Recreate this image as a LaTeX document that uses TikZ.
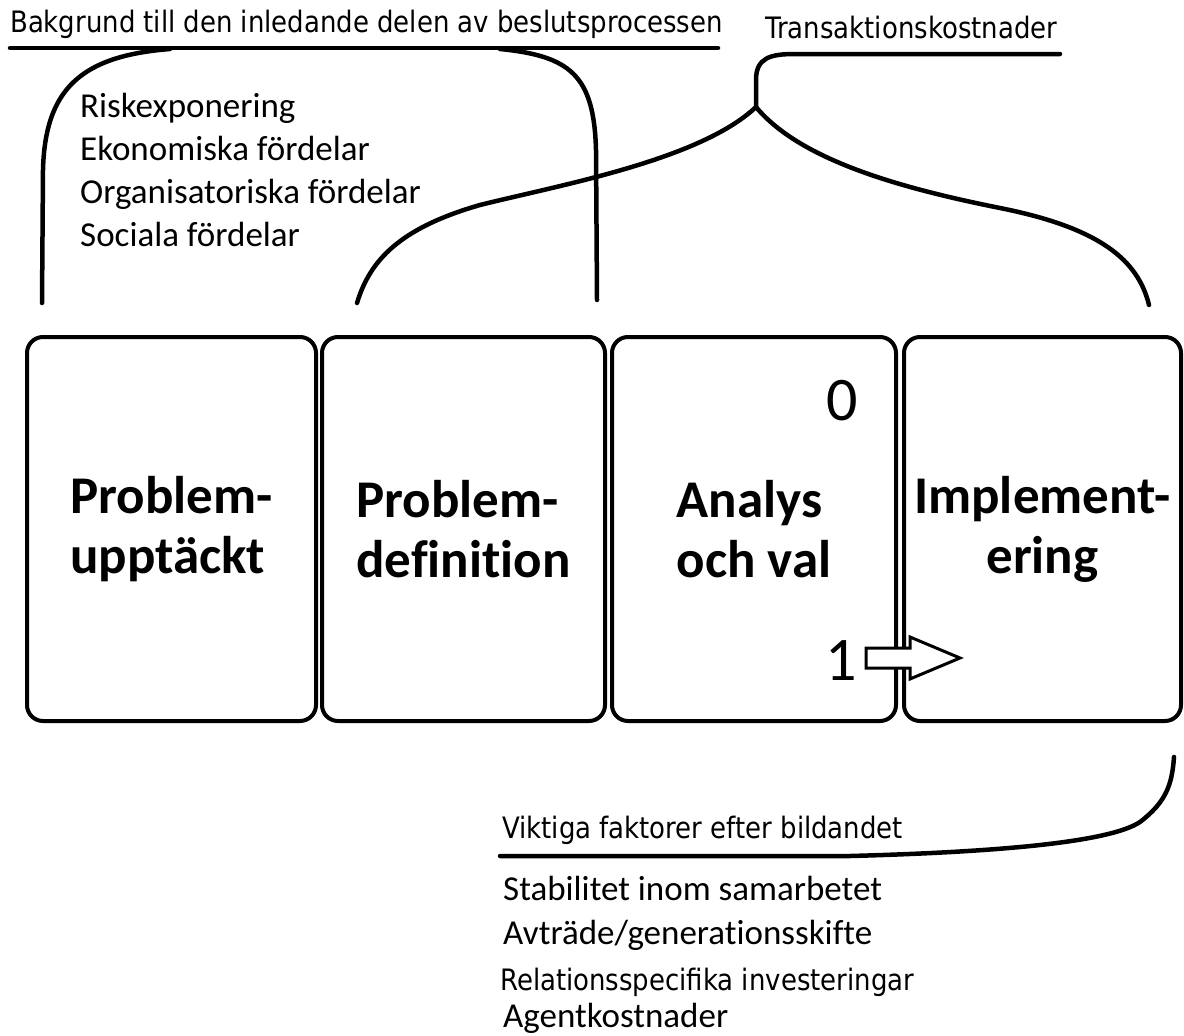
\documentclass[tikz,border=0pt]{standalone}
\usepackage{fontspec}
\setmainfont{Carlito}[Ligatures=NoCommon]
\newfontfamily\headfont[FakeStretch=0.88]{DejaVu Sans}

\tikzset{
  stage/.style={draw, line width=4pt, rounded corners=16pt,
                minimum height=384pt, inner sep=0pt, align=left,
                font=\bfseries\fontsize{53}{60}\selectfont},
  brace/.style={line width=4.5pt, line cap=round},
  heading/.style={anchor=base west, inner sep=0pt,
                  font=\headfont\fontsize{29.5}{33}\selectfont},
  factor/.style={anchor=base west, inner sep=0pt,
                 font=\fontsize{35}{43}\selectfont},
  digit/.style={anchor=base east, inner sep=0pt,
                font=\fontsize{62}{62}\selectfont}
}

\begin{document}
\begin{tikzpicture}[x=1pt, y=-1pt]
        \useasboundingbox (0,0) rectangle (1184,1036);

        % the four stages
        \node[stage, minimum width=289pt] (detect)  at (171.5,529) {Problem-\\upptäckt};
        \node[stage, minimum width=283pt] (define)  at (463.5,529) {Problem-\\definition};
        \node[stage, minimum width=284pt] (analyse) at (754,529)   {Analys\\och val};
        \node[stage, minimum width=277pt, align=center] (implement) at (1042.5,529) {Implement-\\ering};

        \node[digit] (zero) at (858,420) {0};
        \node[digit] (one)  at (857,680) {1};

        % step from 1 into implementation
        \coordinate (pass) at (866,658);
        \draw[line width=3pt, fill=white] (pass) -- ++(0,-10) -- ++(44,0) -- ++(0,-11)
                -- ++(50,21) -- ++(-50,21) -- ++(0,-11) -- ++(-44,0) -- cycle;

        % background brace
        \node[heading] (bakgrund) at (10,32) {Bakgrund till den inledande delen av beslutsprocessen};
        \coordinate (bgleft)  at (42,303);
        \coordinate (bgright) at (597,300);
        \draw[brace] (10,48) -- (718,48);
        \draw[brace] (bgleft) -- (43,170) .. controls (45,90) and (80,56) .. (170,49);
        \draw[brace] (bgright) -- (596,150) .. controls (594,75) and (570,56) .. (500,49);

        \node[factor] (risk)  at (80,117) {Riskexponering};
        \node[factor] (eko)   at (80,160) {Ekonomiska fördelar};
        \node[factor] (org)   at (80,203) {Organisatoriska fördelar};
        \node[factor] (soc)   at (80,246) {Sociala fördelar};

        % transaction cost brace
        \node[heading] (trans) at (765,38) {Transaktionskostnader};
        \coordinate (tkstem)  at (756,107);
        \coordinate (tkleft)  at (357,303);
        \coordinate (tkright) at (1149,305);
        \draw[brace] (tkstem) -- (756,80) .. controls (756,58) and (770,54) .. (795,54) -- (1060,54);
        \draw[brace] (tkstem) .. controls (700,160) and (560,185) .. (480,205)
                .. controls (400,228) and (370,260) .. (tkleft);
        \draw[brace] (tkstem) .. controls (800,160) and (900,188) .. (1000,208)
                .. controls (1100,228) and (1138,260) .. (tkright);

        % after the formation
        \coordinate (aftertop) at (1174,757);
        \draw[brace] (500,856) -- (850,856) .. controls (1000,852) and (1110,842) .. (1140,822)
                .. controls (1166,802) and (1172,785) .. (aftertop);
        \node[heading] (viktiga) at (502,838) {Viktiga faktorer efter bildandet};

        \node[factor]  (stab)  at (503,900)  {Stabilitet inom samarbetet};
        \node[factor]  (avtr)  at (503,944)  {Avträde/generationsskifte};
        \node[heading] (rel)   at (500,990)  {Relationsspecifika investeringar};
        \node[factor]  (agent) at (503,1027) {Agentkostnader};

\end{tikzpicture}
\end{document}
